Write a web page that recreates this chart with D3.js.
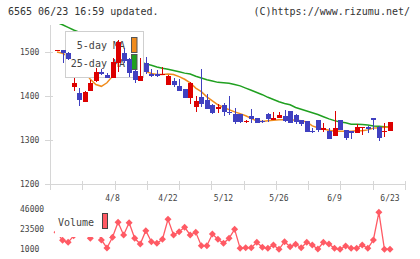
<!DOCTYPE html>
<html>
<head>
<meta charset="utf-8">
<script src="https://cdn.jsdelivr.net/npm/d3@7"></script>
<style>
body { margin: 0; background: #fff; }
svg text { font-family: "DejaVu Sans Mono", monospace; }
</style>
</head>
<body>
<script>
const w = 420;
const h = 259;

// x labels sit on these candle indexes
const dateLabels = ["4/8", "4/22", "5/12", "5/26", "6/9", "6/23"];
const labelIndex = [10, 20, 30, 40, 50, 60];

const opens  = [1502,1504,1498,1421,1407,1387,1412,1433,1455,1448, 1440,1474,1497,1483,1457,1435,1474,1451,1451,1448, 1425,1434,1422,1415,1395,1376,1398,1391,1379,1371, 1379,1364,1360,1359,1340,1354,1349,1343,1360,1345, 1349,1354,1366,1357,1345,1343,1321,1345,1323,1321, 1310,1345,1322,1320,1315,1328,1330,1349,1330,1319, 1321];
const highs  = [1504,1504,1499,1440,1418,1412,1436,1463,1461,1452, 1486,1527,1510,1486,1458,1486,1488,1461,1459,1465, 1448,1442,1438,1416,1431,1400,1461,1404,1381,1382, 1383,1400,1372,1360,1346,1370,1350,1346,1361,1364, 1364,1368,1367,1358,1346,1344,1327,1346,1338,1328, 1366,1346,1323,1321,1336,1330,1331,1350,1331,1338, 1342];
const lows   = [1502,1476,1481,1412,1377,1387,1412,1432,1447,1440, 1440,1455,1475,1444,1429,1435,1451,1443,1443,1448, 1425,1420,1411,1395,1382,1364,1376,1370,1358,1362, 1355,1356,1336,1339,1339,1339,1339,1338,1341,1345, 1349,1342,1339,1336,1332,1318,1315,1318,1319,1302, 1310,1322,1301,1302,1315,1311,1316,1322,1298,1307, 1320];
const closes = [1504,1498,1484,1430,1390,1410,1429,1455,1449,1440, 1478,1523,1480,1453,1436,1446,1455,1446,1446,1451, 1445,1425,1411,1396,1430,1389,1382,1371,1361,1374, 1364,1362,1342,1340,1344,1347,1339,1340,1347,1349, 1357,1343,1339,1340,1336,1319,1319,1323,1328,1302, 1327,1323,1305,1315,1329,1330,1325,1345,1305,1321, 1341];

const ma5  = [1500,1497,1490,1478,1466,1455,1438,1426,1422,1430, 1445,1469,1474,1475,1474,1468,1456,1451,1449,1449, 1450,1449,1444,1438,1430,1418,1410,1398,1389,1380, 1374,1369,1364,1360,1355,1349,1343,1342,1344,1345, 1346,1346,1346,1345,1344,1341,1332,1328,1325,1322, 1320,1320,1320,1320,1321,1321,1323,1327,1328,1329, 1329];
const ma25 = [1567,1562,1556,1550,1545,1539,1533,1527,1521,1515, 1509,1503,1497,1490,1484,1478,1473,1470,1466,1463, 1461,1458,1455,1452,1450,1445,1441,1437,1434,1431, 1430,1429,1426,1423,1418,1413,1408,1403,1397,1392, 1387,1383,1380,1374,1370,1366,1362,1358,1353,1348, 1344,1341,1339,1336,1336,1335,1334,1332,1331,1330, 1329];

const volumes = [20000,11000,8800,16000,24000,19000,13300,26000,11400,2500, 14400,31200,17000,30700,13300,6900,21800,9500,7700,12200, 34500,17000,20700,25600,17000,20000,5000,5000,18100,12200, 7700,13300,23300,2100,2800,2800,8800,3200,2100,5800, 1000,9500,3900,6600,2800,8800,5800,1300,8800,6900, 2100,1000,4700,2100,2100,5800,2100,11400,42300,1000, 1000];

const priceTicks = [1500, 1400, 1300, 1200];
const volumeTicks = [46000, 23500, 1000];

const colorUp = "#dd0000";
const colorDown = "#4040c0";
const colorMa5 = "#f08c1e";
const colorMa25 = "#20a020";
const colorVol = "#ff5a64";
const axisColor = "#d6d6d6";

const svg = d3.select("body")
    .append("svg")
    .attr("width", w)
    .attr("height", h)
    ;

const x = d3.scaleLinear().domain([0, closes.length - 1]).range([57, 390]);
const y = d3.scaleLinear().domain([1200, 1500]).range([184, 52]);
const yv = d3.scaleLinear().domain([1000, 46000]).range([249.3, 209]);
const tickX = d3.scaleLinear().domain([0, 11]).range([50, 405]);

// header
svg.append("text").attr("x", 8).attr("y", 15).attr("font-size", 10).attr("fill", "#333")
    .text("6565 06/23 16:59 updated.");
svg.append("text").attr("x", 410).attr("y", 15).attr("font-size", 10).attr("fill", "#333")
    .attr("text-anchor", "end")
    .text("(C)https://www.rizumu.net/");

// axes
const axes = svg.append("g").attr("shape-rendering", "crispEdges").attr("stroke", axisColor);
axes.append("line").attr("x1", 50.5).attr("x2", 50.5).attr("y1", 25).attr("y2", 190);
axes.append("line").attr("x1", 50).attr("x2", 406).attr("y1", 184.5).attr("y2", 184.5);
axes.selectAll("line.xt")
    .data(d3.range(12))
    .enter()
    .append("line")
    .attr("class", "xt")
    .attr("x1", d => Math.round(tickX(d)) + 0.5)
    .attr("x2", d => Math.round(tickX(d)) + 0.5)
    .attr("y1", 181)
    .attr("y2", 190)
    ;
axes.selectAll("line.yt")
    .data(priceTicks)
    .enter()
    .append("line")
    .attr("class", "yt")
    .attr("x1", 45)
    .attr("x2", 53)
    .attr("y1", d => Math.round(y(d)) + 0.5)
    .attr("y2", d => Math.round(y(d)) + 0.5)
    ;

svg.selectAll("text.yl")
    .data(priceTicks)
    .enter()
    .append("text")
    .attr("class", "yl")
    .attr("x", 20)
    .attr("y", d => y(d) + 3)
    .attr("font-size", 8)
    .attr("fill", "#444")
    .text(d => d)
    ;

svg.selectAll("text.xl")
    .data(dateLabels)
    .enter()
    .append("text")
    .attr("class", "xl")
    .attr("x", (d, i) => x(labelIndex[i]))
    .attr("y", 201)
    .attr("font-size", 8)
    .attr("fill", "#444")
    .attr("text-anchor", "middle")
    .text(d => d)
    ;

// clip for the price pane
svg.append("clipPath").attr("id", "pane")
    .append("rect").attr("x", 50).attr("y", 24).attr("width", 360).attr("height", 166);

const lines = svg.append("g").attr("clip-path", "url(#pane)");

const line = d3.line().x((d, i) => x(i)).y(d => y(d));
lines.append("path").attr("d", line(ma25)).attr("fill", "none")
    .attr("stroke", colorMa25).attr("stroke-width", 1.5);
lines.append("path").attr("d", line(ma5)).attr("fill", "none")
    .attr("stroke", colorMa5).attr("stroke-width", 1.5);

// legend (sits above lines, below candles)
svg.append("rect").attr("x", 65.5).attr("y", 31.5).attr("width", 78).attr("height", 46)
    .attr("fill", "#fff").attr("stroke", "#cfcfcf");
svg.append("text").attr("x", 125).attr("y", 49).attr("font-size", 10).attr("fill", "#444")
    .attr("text-anchor", "end").text("5-day MA");
svg.append("text").attr("x", 125).attr("y", 66.5).attr("font-size", 10).attr("fill", "#444")
    .attr("text-anchor", "end").text("25-day MA");
svg.append("rect").attr("x", 131.5).attr("y", 37.5).attr("width", 5.5).attr("height", 15)
    .attr("fill", colorMa5).attr("stroke", "#555");
svg.append("rect").attr("x", 131.5).attr("y", 54.5).attr("width", 5.5).attr("height", 15)
    .attr("fill", colorMa25).attr("stroke", "#555");

// candles
const candles = svg.append("g").attr("clip-path", "url(#pane)")
    .selectAll("g.candle")
    .data(closes)
    .enter()
    .append("g")
    .attr("class", "candle")
    .attr("shape-rendering", "crispEdges")
    ;
candles.append("line")
    .attr("x1", (d, i) => Math.round(x(i)) + 0.5)
    .attr("x2", (d, i) => Math.round(x(i)) + 0.5)
    .attr("y1", (d, i) => y(highs[i]))
    .attr("y2", (d, i) => y(lows[i]))
    .attr("stroke", (d, i) => d >= opens[i] ? colorUp : colorDown)
    ;
candles.append("rect")
    .attr("x", (d, i) => Math.round(x(i)) - 2)
    .attr("width", 5)
    .attr("y", (d, i) => y(Math.max(d, opens[i])))
    .attr("height", (d, i) => Math.max(1.2, Math.abs(y(d) - y(opens[i]))))
    .attr("fill", (d, i) => d >= opens[i] ? colorUp : colorDown)
    ;

// volume pane
svg.selectAll("text.vl")
    .data(volumeTicks)
    .enter()
    .append("text")
    .attr("class", "vl")
    .attr("x", 20)
    .attr("y", d => yv(d) + 3)
    .attr("font-size", 8)
    .attr("fill", "#444")
    .text(d => d)
    ;

const vline = d3.line().x((d, i) => x(i)).y(d => yv(d));
svg.append("path").attr("d", vline(volumes)).attr("fill", "none")
    .attr("stroke", colorVol).attr("stroke-width", 1.3);
svg.selectAll("path.vm")
    .data(volumes)
    .enter()
    .append("path")
    .attr("class", "vm")
    .attr("d", "M0,-3.5L3.5,0L0,3.5L-3.5,0Z")
    .attr("transform", (d, i) => `translate(${x(i)},${yv(d)})`)
    .attr("fill", colorVol)
    ;

svg.append("rect").attr("x", 55).attr("y", 206).attr("width", 55).attr("height", 31)
    .attr("fill", "#fff");
svg.append("text").attr("x", 58).attr("y", 226).attr("font-size", 10).attr("fill", "#444")
    .text("Volume");
svg.append("rect").attr("x", 102.5).attr("y", 213.5).attr("width", 5).attr("height", 15)
    .attr("fill", colorVol).attr("stroke", "#444");
</script>
</body>
</html>
